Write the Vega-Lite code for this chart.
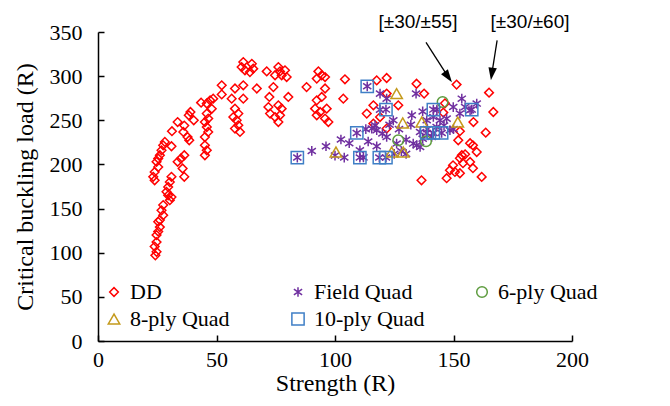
{
  "$schema": "https://vega.github.io/schema/vega-lite/v6.json",
  "autosize": {"type": "none"},
  "padding": {"left": 98, "top": 32, "right": 98, "bottom": 65},
  "width": 474,
  "height": 309,
  "background": "white",
  "config": {
    "view": {"stroke": null},
    "axis": {
      "grid": false,
      "domainColor": "black",
      "tickColor": "black",
      "domainWidth": 1.5,
      "tickWidth": 1.5,
      "tickSize": -6,
      "labelFont": "Liberation Serif",
      "labelFontSize": 22,
      "labelColor": "black",
      "titleFont": "Liberation Serif",
      "titleFontSize": 24,
      "titleFontWeight": "normal",
      "titleColor": "black",
      "labelFlush": false
    },
    "legend": {
      "labelFont": "Liberation Serif",
      "labelFontSize": 22,
      "labelColor": "black",
      "symbolSize": 60,
      "symbolStrokeWidth": 1.5,
      "labelOffset": 5,
      "padding": 0
    }
  },
  "layer": [
    {
      "data": {"values": [
        {"s":"DD","x":24.2,"y":97},{"s":"DD","x":24.7,"y":101},{"s":"DD","x":23.9,"y":107},{"s":"DD","x":24.7,"y":112},{"s":"DD","x":24.7,"y":120},{"s":"DD","x":25.4,"y":124},{"s":"DD","x":26.1,"y":129},{"s":"DD","x":25.4,"y":135},{"s":"DD","x":26.1,"y":137},{"s":"DD","x":27.5,"y":142.5},{"s":"DD","x":26.8,"y":148},{"s":"DD","x":27.5,"y":154},{"s":"DD","x":30.3,"y":159.5},{"s":"DD","x":31,"y":163},{"s":"DD","x":29.6,"y":165},{"s":"DD","x":28.9,"y":169},{"s":"DD","x":29.6,"y":174.5},{"s":"DD","x":30.3,"y":180},{"s":"DD","x":31,"y":186},{"s":"DD","x":36.4,"y":186},{"s":"DD","x":35.7,"y":195.4},{"s":"DD","x":33.6,"y":203},{"s":"DD","x":35,"y":206.7},{"s":"DD","x":36.4,"y":210.4},
        {"s":"DD","x":23.9,"y":182},{"s":"DD","x":23.3,"y":186},{"s":"DD","x":23.9,"y":191.5},{"s":"DD","x":25.4,"y":197},{"s":"DD","x":24.7,"y":203},{"s":"DD","x":25.4,"y":206.7},{"s":"DD","x":26.1,"y":210.4},{"s":"DD","x":26.8,"y":216},{"s":"DD","x":27.5,"y":221.7},{"s":"DD","x":28.2,"y":225.5},{"s":"DD","x":31,"y":220.6},{"s":"DD","x":31.2,"y":237.6},{"s":"DD","x":33.6,"y":248},{"s":"DD","x":36.4,"y":244},{"s":"DD","x":36,"y":236.8},{"s":"DD","x":37.8,"y":231},{"s":"DD","x":38.5,"y":227.4},{"s":"DD","x":40.4,"y":250},{"s":"DD","x":38.3,"y":255.7},{"s":"DD","x":39,"y":259.4},{"s":"DD","x":43.5,"y":270},{"s":"DD","x":45.9,"y":269},{"s":"DD","x":47.3,"y":272.6},{"s":"DD","x":48.6,"y":274.5},{"s":"DD","x":45.9,"y":257.6},{"s":"DD","x":46.5,"y":252},{"s":"DD","x":45.1,"y":248},{"s":"DD","x":45.9,"y":242.4},{"s":"DD","x":46.5,"y":236.8},{"s":"DD","x":45.1,"y":231},{"s":"DD","x":45.1,"y":221.7},{"s":"DD","x":45.9,"y":216},{"s":"DD","x":45.1,"y":210.4},{"s":"DD","x":48,"y":263},
        {"s":"DD","x":52.2,"y":289.6},{"s":"DD","x":57.8,"y":286},{"s":"DD","x":61.3,"y":289.6},{"s":"DD","x":67,"y":286},{"s":"DD","x":52.2,"y":279.3},{"s":"DD","x":56.4,"y":274.5},{"s":"DD","x":61.3,"y":274.5},{"s":"DD","x":61.3,"y":316},{"s":"DD","x":64.9,"y":314},{"s":"DD","x":65.5,"y":308.5},{"s":"DD","x":62,"y":306.6},{"s":"DD","x":64.1,"y":304.6},{"s":"DD","x":60.6,"y":310.3},{"s":"DD","x":71.2,"y":305.4},{"s":"DD","x":76.1,"y":310.3},{"s":"DD","x":76.8,"y":305.4},{"s":"DD","x":78.9,"y":306.6},{"s":"DD","x":79.6,"y":299},{"s":"DD","x":74.7,"y":301},{"s":"DD","x":77.5,"y":301},{"s":"DD","x":74,"y":287.6},{"s":"DD","x":72.3,"y":276.4},{"s":"DD","x":80.3,"y":276.4},{"s":"DD","x":71.9,"y":265},{"s":"DD","x":76.1,"y":267},{"s":"DD","x":77.5,"y":263.2},{"s":"DD","x":72.6,"y":257.6},{"s":"DD","x":74.7,"y":253.7},{"s":"DD","x":76.8,"y":255.7},{"s":"DD","x":76.1,"y":248},{"s":"DD","x":57.8,"y":263.2},{"s":"DD","x":59.2,"y":257.6},{"s":"DD","x":57.1,"y":253.7},{"s":"DD","x":58.5,"y":250},{"s":"DD","x":59.2,"y":244.3},{"s":"DD","x":59.9,"y":236.8},{"s":"DD","x":57.8,"y":240.6},
        {"s":"DD","x":88,"y":287.6},{"s":"DD","x":93,"y":305.4},{"s":"DD","x":94.4,"y":301},{"s":"DD","x":92.3,"y":297.2},{"s":"DD","x":95.8,"y":299},{"s":"DD","x":92.3,"y":272.6},{"s":"DD","x":91.6,"y":263.2},{"s":"DD","x":92.3,"y":255.7},{"s":"DD","x":93.7,"y":259.4},{"s":"DD","x":96.5,"y":263.2},{"s":"DD","x":95.8,"y":252},{"s":"DD","x":97.2,"y":248},{"s":"DD","x":94.4,"y":276.4},{"s":"DD","x":95.8,"y":286},
        {"s":"DD","x":104.2,"y":296.4},{"s":"DD","x":103.5,"y":274.5},{"s":"DD","x":117.6,"y":295.2},{"s":"DD","x":121.8,"y":297.9},{"s":"DD","x":121.8,"y":280.2},{"s":"DD","x":116.2,"y":267},{"s":"DD","x":126.7,"y":267},{"s":"DD","x":113.4,"y":257.6},{"s":"DD","x":119,"y":253.7},{"s":"DD","x":116.2,"y":246.3},{"s":"DD","x":121.8,"y":240.6},{"s":"DD","x":134.4,"y":291.4},{"s":"DD","x":137.6,"y":280.2},{"s":"DD","x":136.5,"y":182},
        {"s":"DD","x":151.3,"y":290.4},{"s":"DD","x":165,"y":281.3},{"s":"DD","x":166.8,"y":259.4},{"s":"DD","x":146.4,"y":269.2},{"s":"DD","x":145.7,"y":258.7},{"s":"DD","x":158.4,"y":248},{"s":"DD","x":163.6,"y":236},{"s":"DD","x":152.7,"y":237.6},{"s":"DD","x":152,"y":227.4},{"s":"DD","x":157,"y":224},{"s":"DD","x":158.2,"y":221.7},{"s":"DD","x":159.8,"y":214},{"s":"DD","x":154.9,"y":211.5},{"s":"DD","x":153.5,"y":210.4},{"s":"DD","x":152.7,"y":207},{"s":"DD","x":157,"y":202.8},{"s":"DD","x":154,"y":201.4},{"s":"DD","x":149.8,"y":199},{"s":"DD","x":148.5,"y":193.4},{"s":"DD","x":150.6,"y":191.5},{"s":"DD","x":152.7,"y":190},{"s":"DD","x":158.2,"y":195.7},{"s":"DD","x":161.9,"y":185.9},{"s":"DD","x":147.1,"y":184.4},
        {"s":"Field Quad","x":84.1,"y":207.8},{"s":"Field Quad","x":109.2,"y":235.6},{"s":"Field Quad","x":110.5,"y":207.8},{"s":"Field Quad","x":118.7,"y":207.8},{"s":"Field Quad","x":121.5,"y":207.8},{"s":"Field Quad","x":113.6,"y":288.5},{"s":"Field Quad","x":121.5,"y":262.1},{"s":"Field Quad","x":141.5,"y":262.1},{"s":"Field Quad","x":138.7,"y":235.6},{"s":"Field Quad","x":141.5,"y":235.6},{"s":"Field Quad","x":145,"y":235.6},{"s":"Field Quad","x":157.7,"y":262.1},
        {"s":"Field Quad","x":90.2,"y":215.3},{"s":"Field Quad","x":96.2,"y":220.6},{"s":"Field Quad","x":102.5,"y":228.2},{"s":"Field Quad","x":103.9,"y":207.8},{"s":"Field Quad","x":110.5,"y":216},{"s":"Field Quad","x":116.9,"y":244.3},{"s":"Field Quad","x":115.5,"y":240.6},{"s":"Field Quad","x":117.6,"y":238.7},{"s":"Field Quad","x":117.6,"y":220.6},{"s":"Field Quad","x":119,"y":280.2},{"s":"Field Quad","x":121.8,"y":274.5},{"s":"Field Quad","x":124.6,"y":250},{"s":"Field Quad","x":121.8,"y":231.1},{"s":"Field Quad","x":126,"y":223.6},{"s":"Field Quad","x":132.4,"y":255.7},{"s":"Field Quad","x":134.2,"y":280.2},{"s":"Field Quad","x":135.9,"y":236.8},{"s":"Field Quad","x":133,"y":223.6},{"s":"Field Quad","x":134.5,"y":221.7},{"s":"Field Quad","x":135.9,"y":219.8},{"s":"Field Quad","x":138.7,"y":250},{"s":"Field Quad","x":141.5,"y":253.7},{"s":"Field Quad","x":142.9,"y":242.4},{"s":"Field Quad","x":144.3,"y":250},{"s":"Field Quad","x":147.1,"y":251.9},{"s":"Field Quad","x":149.9,"y":265},{"s":"Field Quad","x":153.5,"y":274.5},{"s":"Field Quad","x":154.9,"y":265},{"s":"Field Quad","x":157,"y":261.3},{"s":"Field Quad","x":159.8,"y":268.9},{"s":"Field Quad","x":152.7,"y":257.6},{"s":"Field Quad","x":148.5,"y":238.7},{"s":"Field Quad","x":140.8,"y":231.1},
        {"s":"Field Quad","x":113,"y":240},{"s":"Field Quad","x":120,"y":235},{"s":"Field Quad","x":123,"y":245},{"s":"Field Quad","x":127,"y":240},{"s":"Field Quad","x":130,"y":228},{"s":"Field Quad","x":128,"y":215},{"s":"Field Quad","x":132,"y":245},{"s":"Field Quad","x":137,"y":260},{"s":"Field Quad","x":139,"y":240},{"s":"Field Quad","x":143,"y":262},{"s":"Field Quad","x":146,"y":244},{"s":"Field Quad","x":150,"y":240},{"s":"Field Quad","x":125,"y":212},{"s":"Field Quad","x":130,"y":212},{"s":"Field Quad","x":106,"y":224},{"s":"Field Quad","x":114,"y":226},{"s":"Field Quad","x":119,"y":262},{"s":"Field Quad","x":137,"y":229},{"s":"Field Quad","x":112,"y":208},{"s":"Field Quad","x":100,"y":210},
        {"s":"6-ply Quad","x":145.4,"y":270.7},{"s":"6-ply Quad","x":126.7,"y":227.4},{"s":"6-ply Quad","x":138.4,"y":226.2},
        {"s":"8-ply Quad","x":100.4,"y":214.1},{"s":"8-ply Quad","x":126,"y":280.2},{"s":"8-ply Quad","x":128.6,"y":247},{"s":"8-ply Quad","x":136.6,"y":248},{"s":"8-ply Quad","x":123.9,"y":214.1},{"s":"8-ply Quad","x":128.8,"y":214.1},{"s":"8-ply Quad","x":151.8,"y":248},
        {"s":"10-ply Quad","x":84.1,"y":207.8},{"s":"10-ply Quad","x":109.2,"y":235.6},{"s":"10-ply Quad","x":110.5,"y":207.8},{"s":"10-ply Quad","x":118.7,"y":207.8},{"s":"10-ply Quad","x":121.5,"y":207.8},{"s":"10-ply Quad","x":113.6,"y":288.5},{"s":"10-ply Quad","x":121.5,"y":262.1},{"s":"10-ply Quad","x":141.5,"y":262.1},{"s":"10-ply Quad","x":138.7,"y":235.6},{"s":"10-ply Quad","x":141.5,"y":235.6},{"s":"10-ply Quad","x":145,"y":235.6},{"s":"10-ply Quad","x":157.7,"y":262.1}
      ]},
      "mark": {"type": "point", "filled": false, "strokeWidth": 1.5, "opacity": 1},
      "encoding": {
        "x": {"field": "x", "type": "quantitative", "scale": {"domain": [0, 200], "nice": false},
              "axis": {"title": "Strength (R)", "values": [0, 50, 100, 150, 200], "labelPadding": 14, "titlePadding": 1}},
        "y": {"field": "y", "type": "quantitative", "scale": {"domain": [0, 350], "nice": false},
              "axis": {"title": "Critical buckling load (R)", "values": [0, 50, 100, 150, 200, 250, 300, 350], "labelPadding": 22, "titlePadding": 12}},
        "color": {"field": "s", "type": "nominal", "title": null,
                  "scale": {"domain": ["DD", "Field Quad", "6-ply Quad", "8-ply Quad", "10-ply Quad"],
                            "range": ["#FF0000", "#7030A0", "#5E9C3F", "#C49A1C", "#3F7FC6"]},
                  "legend": {"orient": "none", "legendX": 5, "legendY": 249, "direction": "horizontal", "columns": 3, "gridAlign": "all", "columnPadding": 46, "rowPadding": 5}},
        "shape": {"field": "s", "type": "nominal", "title": null,
                  "scale": {"domain": ["DD", "Field Quad", "6-ply Quad", "8-ply Quad", "10-ply Quad"],
                            "range": ["diamond", "M0,-1L0,1M-0.85,-0.6L0.85,0.6M-0.85,0.6L0.85,-0.6", "circle", "triangle-up", "square"]},
                  "legend": {"orient": "none", "legendX": 5, "legendY": 249, "direction": "horizontal", "columns": 3, "gridAlign": "all", "columnPadding": 46, "rowPadding": 5}},
        "size": {"field": "s", "type": "nominal", "legend": null,
                 "scale": {"domain": ["DD", "Field Quad", "6-ply Quad", "8-ply Quad", "10-ply Quad"],
                           "range": [75, 150, 100, 130, 110]}}
      }
    },
    {
      "data": {"values": [
        {"t": "[±30/±55]", "x": 135, "y": 361},
        {"t": "[±30/±60]", "x": 182.3, "y": 361}
      ]},
      "mark": {"type": "text", "font": "Liberation Sans", "fontSize": 19, "color": "black", "align": "center", "baseline": "middle"},
      "encoding": {
        "x": {"field": "x", "type": "quantitative"},
        "y": {"field": "y", "type": "quantitative"},
        "text": {"field": "t"}
      }
    },
    {
      "data": {"values": [
        {"x": 138.4, "y": 338.2, "x2": 147.6, "y2": 299.7},
        {"x": 168.4, "y": 340.5, "x2": 166.2, "y2": 303.2}
      ]},
      "mark": {"type": "rule", "color": "black", "strokeWidth": 1.3},
      "encoding": {
        "x": {"field": "x", "type": "quantitative"},
        "y": {"field": "y", "type": "quantitative"},
        "x2": {"field": "x2"},
        "y2": {"field": "y2"}
      }
    },
    {
      "data": {"values": [{"x": 147.6, "y": 299.7}]},
      "mark": {"type": "point", "shape": "M0,-1L-0.6,0.8L0.6,0.8Z", "filled": true, "color": "black", "size": 200, "angle": 144, "opacity": 1},
      "encoding": {
        "x": {"field": "x", "type": "quantitative"},
        "y": {"field": "y", "type": "quantitative"}
      }
    },
    {
      "data": {"values": [{"x": 166.2, "y": 303.2}]},
      "mark": {"type": "point", "shape": "M0,-1L-0.6,0.8L0.6,0.8Z", "filled": true, "color": "black", "size": 200, "angle": 188, "opacity": 1},
      "encoding": {
        "x": {"field": "x", "type": "quantitative"},
        "y": {"field": "y", "type": "quantitative"}
      }
    }
  ]
}
